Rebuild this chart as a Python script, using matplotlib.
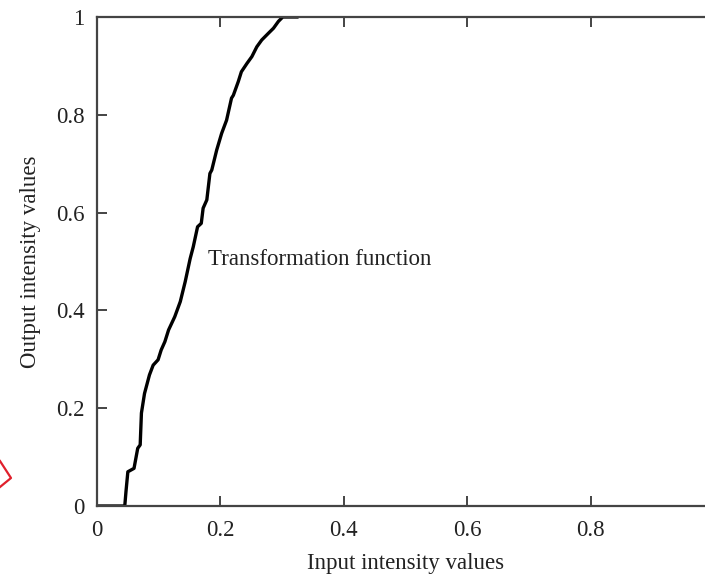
import numpy as np
import matplotlib
matplotlib.use("Agg")
import matplotlib.pyplot as plt
from matplotlib.lines import Line2D

plt.rcParams['font.family'] = ['Liberation Serif', 'DejaVu Serif']

# transformation function
x_in = [0.0, 0.045, 0.047, 0.050, 0.060, 0.066, 0.070, 0.072, 0.077, 0.085,
        0.091, 0.099, 0.104, 0.110, 0.116, 0.126, 0.135, 0.143, 0.151, 0.156,
        0.163, 0.169, 0.172, 0.178, 0.183, 0.186, 0.194, 0.202, 0.210, 0.218,
        0.221, 0.229, 0.234, 0.243, 0.251, 0.259, 0.267, 0.278, 0.286, 0.294,
        0.301, 0.324]
y_out = [0.0, 0.0, 0.030, 0.070, 0.077, 0.118, 0.125, 0.190, 0.230, 0.268,
         0.288, 0.299, 0.319, 0.336, 0.360, 0.387, 0.418, 0.459, 0.506, 0.530,
         0.571, 0.578, 0.609, 0.626, 0.680, 0.687, 0.728, 0.762, 0.789, 0.834,
         0.840, 0.868, 0.888, 0.905, 0.919, 0.939, 0.953, 0.967, 0.977, 0.991,
         1.0, 1.0]

xticks = [0, 0.2, 0.4, 0.6, 0.8]
xtick_labels = ['0', '0.2', '0.4', '0.6', '0.8']
yticks = [0, 0.2, 0.4, 0.6, 0.8, 1]
ytick_labels = ['0', '0.2', '0.4', '0.6', '0.8', '1']

fig = plt.figure(figsize=(7.05, 5.77), dpi=100)
# the right edge of the plot is cut off in the original, so the axes run past the figure
ax = fig.add_axes([97/705, 71/577, 617/705, 489/577])

ax.plot(x_in, y_out, color='black', lw=2.4, solid_joinstyle='round')

ax.set_xlim(0, 1)
ax.set_ylim(0, 1)
ax.set_xticks(xticks)
ax.set_xticklabels(xtick_labels)
ax.set_yticks(yticks)
ax.set_yticklabels(ytick_labels)

for s in ax.spines.values():
    s.set_color('#444444')
    s.set_linewidth(1.6)

ax.tick_params(direction='in', length=7, width=1.4, color='#444444',
               top=True, right=False, labelsize=16.5, labelcolor='#222222', pad=9)
ax.tick_params(axis='x', pad=10)

ax.set_xlabel('Input intensity values', fontsize=16.5, color='#222222', labelpad=9)
ax.set_ylabel('Output intensity values', fontsize=16.5, color='#222222', labelpad=11)

ax.text(0.180, 0.505, 'Transformation function', fontsize=16.5, color='#222222',
        va='center', ha='left')

# red page decoration at the left edge
fig.add_artist(Line2D([0, 11/705, 0], [1 - 461/577, 1 - 478/577, 1 - 487/577],
                      color='#e0202c', lw=1.6, transform=fig.transFigure))

fig.savefig('out.png', dpi=100)
